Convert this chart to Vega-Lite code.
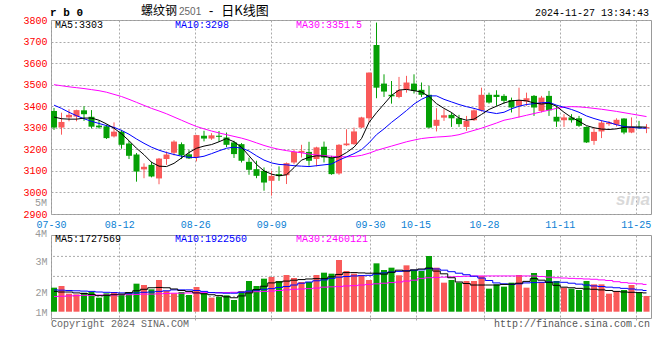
{
"$schema": "https://vega.github.io/schema/vega-lite/v6.json",
"background": "#ffffff",
"padding": {"left": 22, "top": 4, "right": 4, "bottom": 4},
"bounds": "flush",
"spacing": 21,
"config": {
  "view": {"stroke": "#999999", "strokeWidth": 1},
  "axis": {"labelFont": "Liberation Mono", "labelFontSize": 10, "ticks": false, "domain": false, "gridColor": "#aaaaaa", "gridDash": [2, 2], "gridWidth": 1, "labelOverlap": false},
  "text": {"font": "Liberation Mono", "fontSize": 10, "baseline": "middle"}
},
"datasets": {"k": [
{"d":"07-30","o":3378,"h":3392,"l":3290,"c":3301,"m5":3350,"m10":3405,"m30":3500,"v":2143000,"v5":2020000,"v10":2070000,"v30":1850000},
{"d":"07-31","o":3301,"h":3370,"l":3268,"c":3327,"m5":3342,"m10":3390,"m30":3495,"v":2198000,"v5":2000000,"v10":2060000,"v30":1860000},
{"d":"08-01","o":3348,"h":3386,"l":3330,"c":3360,"m5":3340,"m10":3372,"m30":3490,"v":1945000,"v5":2000000,"v10":2050000,"v30":1870000},
{"d":"08-02","o":3352,"h":3384,"l":3330,"c":3382,"m5":3340,"m10":3356,"m30":3486,"v":1923000,"v5":1970000,"v10":2040000,"v30":1880000},
{"d":"08-05","o":3381,"h":3400,"l":3332,"c":3363,"m5":3345,"m10":3342,"m30":3482,"v":1978000,"v5":1950000,"v10":2030000,"v30":1890000},
{"d":"08-06","o":3351,"h":3382,"l":3297,"c":3305,"m5":3345,"m10":3330,"m30":3477,"v":2000000,"v5":1920000,"v10":2020000,"v30":1890000},
{"d":"08-07","o":3310,"h":3333,"l":3296,"c":3302,"m5":3335,"m10":3320,"m30":3472,"v":1813000,"v5":1880000,"v10":2000000,"v30":1900000},
{"d":"08-08","o":3307,"h":3315,"l":3248,"c":3252,"m5":3318,"m10":3310,"m30":3465,"v":1956000,"v5":1890000,"v10":1990000,"v30":1900000},
{"d":"08-09","o":3260,"h":3325,"l":3255,"c":3282,"m5":3298,"m10":3302,"m30":3455,"v":2000000,"v5":1910000,"v10":1980000,"v30":1900000},
{"d":"08-12","o":3282,"h":3290,"l":3203,"c":3221,"m5":3272,"m10":3288,"m30":3445,"v":1923000,"v5":1930000,"v10":1970000,"v30":1910000},
{"d":"08-13","o":3227,"h":3240,"l":3155,"c":3170,"m5":3240,"m10":3270,"m30":3432,"v":1978000,"v5":1980000,"v10":1960000,"v30":1910000},
{"d":"08-14","o":3176,"h":3183,"l":3050,"c":3097,"m5":3205,"m10":3248,"m30":3418,"v":2275000,"v5":2040000,"v10":1970000,"v30":1920000},
{"d":"08-15","o":3107,"h":3135,"l":3066,"c":3119,"m5":3175,"m10":3228,"m30":3404,"v":2231000,"v5":2090000,"v10":1990000,"v30":1930000},
{"d":"08-16","o":3128,"h":3142,"l":3070,"c":3074,"m5":3140,"m10":3210,"m30":3390,"v":2088000,"v5":2140000,"v10":2000000,"v30":1930000},
{"d":"08-19","o":3065,"h":3160,"l":3038,"c":3157,"m5":3122,"m10":3196,"m30":3378,"v":2396000,"v5":2150000,"v10":2020000,"v30":1940000},
{"d":"08-20","o":3155,"h":3190,"l":3128,"c":3176,"m5":3120,"m10":3185,"m30":3365,"v":2033000,"v5":2140000,"v10":2040000,"v30":1950000},
{"d":"08-21","o":3184,"h":3242,"l":3172,"c":3236,"m5":3135,"m10":3176,"m30":3350,"v":1956000,"v5":2100000,"v10":2070000,"v30":1960000},
{"d":"08-22","o":3224,"h":3232,"l":3155,"c":3172,"m5":3160,"m10":3168,"m30":3335,"v":2000000,"v5":2050000,"v10":2070000,"v30":1960000},
{"d":"08-23","o":3177,"h":3196,"l":3155,"c":3158,"m5":3185,"m10":3163,"m30":3320,"v":1901000,"v5":2020000,"v10":2070000,"v30":1970000},
{"d":"08-26","o":3163,"h":3267,"l":3144,"c":3266,"m5":3205,"m10":3162,"m30":3306,"v":2165000,"v5":1970000,"v10":2050000,"v30":1970000},
{"d":"08-27","o":3263,"h":3286,"l":3237,"c":3250,"m5":3215,"m10":3168,"m30":3295,"v":1978000,"v5":1940000,"v10":2020000,"v30":1980000},
{"d":"08-28","o":3250,"h":3275,"l":3244,"c":3265,"m5":3222,"m10":3180,"m30":3285,"v":1813000,"v5":1910000,"v10":1980000,"v30":1980000},
{"d":"08-29","o":3263,"h":3285,"l":3235,"c":3258,"m5":3235,"m10":3193,"m30":3276,"v":1846000,"v5":1880000,"v10":1970000,"v30":1980000},
{"d":"08-30","o":3255,"h":3278,"l":3210,"c":3221,"m5":3250,"m10":3205,"m30":3268,"v":1890000,"v5":1840000,"v10":1960000,"v30":1980000},
{"d":"09-02","o":3232,"h":3240,"l":3160,"c":3178,"m5":3235,"m10":3210,"m30":3260,"v":1736000,"v5":1810000,"v10":1960000,"v30":1990000},
{"d":"09-03","o":3224,"h":3229,"l":3139,"c":3147,"m5":3210,"m10":3206,"m30":3252,"v":2033000,"v5":1870000,"v10":1990000,"v30":2000000},
{"d":"09-04","o":3142,"h":3162,"l":3082,"c":3105,"m5":3170,"m10":3192,"m30":3242,"v":2363000,"v5":1970000,"v10":2030000,"v30":2000000},
{"d":"09-05","o":3108,"h":3147,"l":3066,"c":3077,"m5":3130,"m10":3170,"m30":3230,"v":2198000,"v5":2080000,"v10":2060000,"v30":2010000},
{"d":"09-06","o":3100,"h":3116,"l":3008,"c":3046,"m5":3100,"m10":3150,"m30":3218,"v":2440000,"v5":2190000,"v10":2090000,"v30":2020000},
{"d":"09-09","o":3054,"h":3100,"l":2985,"c":3077,"m5":3085,"m10":3137,"m30":3208,"v":2495000,"v5":2300000,"v10":2110000,"v30":2030000},
{"d":"09-10","o":3085,"h":3121,"l":3054,"c":3076,"m5":3077,"m10":3130,"m30":3200,"v":2363000,"v5":2330000,"v10":2150000,"v30":2050000},
{"d":"09-11","o":3080,"h":3139,"l":3039,"c":3136,"m5":3082,"m10":3128,"m30":3194,"v":2561000,"v5":2360000,"v10":2180000,"v30":2070000},
{"d":"09-12","o":3139,"h":3201,"l":3131,"c":3188,"m5":3115,"m10":3124,"m30":3189,"v":2462000,"v5":2390000,"v10":2230000,"v30":2090000},
{"d":"09-13","o":3184,"h":3221,"l":3162,"c":3193,"m5":3150,"m10":3122,"m30":3184,"v":2330000,"v5":2410000,"v10":2290000,"v30":2100000},
{"d":"09-18","o":3188,"h":3235,"l":3124,"c":3147,"m5":3163,"m10":3120,"m30":3178,"v":2330000,"v5":2430000,"v10":2330000,"v30":2110000},
{"d":"09-19","o":3155,"h":3212,"l":3121,"c":3209,"m5":3170,"m10":3124,"m30":3174,"v":2561000,"v5":2440000,"v10":2370000,"v30":2130000},
{"d":"09-20","o":3212,"h":3236,"l":3139,"c":3162,"m5":3168,"m10":3128,"m30":3171,"v":2638000,"v5":2440000,"v10":2400000,"v30":2160000},
{"d":"09-23","o":3162,"h":3170,"l":3082,"c":3085,"m5":3160,"m10":3132,"m30":3168,"v":2605000,"v5":2500000,"v10":2450000,"v30":2170000},
{"d":"09-24","o":3088,"h":3224,"l":3082,"c":3221,"m5":3165,"m10":3150,"m30":3166,"v":3056000,"v5":2580000,"v10":2490000,"v30":2180000},
{"d":"09-25","o":3219,"h":3293,"l":3216,"c":3227,"m5":3185,"m10":3165,"m30":3165,"v":2693000,"v5":2640000,"v10":2510000,"v30":2200000},
{"d":"09-26","o":3224,"h":3301,"l":3221,"c":3283,"m5":3210,"m10":3180,"m30":3167,"v":2605000,"v5":2640000,"v10":2530000,"v30":2210000},
{"d":"09-27","o":3301,"h":3351,"l":3298,"c":3348,"m5":3250,"m10":3198,"m30":3172,"v":2550000,"v5":2630000,"v10":2540000,"v30":2230000},
{"d":"09-30","o":3344,"h":3557,"l":3324,"c":3556,"m5":3325,"m10":3230,"m30":3182,"v":2396000,"v5":2620000,"v10":2550000,"v30":2250000},
{"d":"10-08","o":3684,"h":3788,"l":3437,"c":3486,"m5":3370,"m10":3268,"m30":3195,"v":2946000,"v5":2620000,"v10":2590000,"v30":2270000},
{"d":"10-09","o":3505,"h":3548,"l":3443,"c":3468,"m5":3410,"m10":3295,"m30":3205,"v":2726000,"v5":2590000,"v10":2630000,"v30":2290000},
{"d":"10-10","o":3453,"h":3517,"l":3412,"c":3446,"m5":3450,"m10":3325,"m30":3215,"v":2803000,"v5":2650000,"v10":2660000,"v30":2310000},
{"d":"10-11","o":3443,"h":3536,"l":3437,"c":3474,"m5":3475,"m10":3352,"m30":3225,"v":2550000,"v5":2720000,"v10":2680000,"v30":2330000},
{"d":"10-14","o":3476,"h":3541,"l":3463,"c":3510,"m5":3478,"m10":3380,"m30":3235,"v":2880000,"v5":2690000,"v10":2700000,"v30":2360000},
{"d":"10-15","o":3505,"h":3548,"l":3459,"c":3471,"m5":3472,"m10":3410,"m30":3243,"v":2726000,"v5":2730000,"v10":2720000,"v30":2390000},
{"d":"10-16","o":3476,"h":3510,"l":3443,"c":3453,"m5":3466,"m10":3432,"m30":3250,"v":2693000,"v5":2760000,"v10":2730000,"v30":2450000},
{"d":"10-17","o":3453,"h":3494,"l":3298,"c":3301,"m5":3445,"m10":3448,"m30":3254,"v":3188000,"v5":2790000,"v10":2770000,"v30":2470000},
{"d":"10-18","o":3309,"h":3391,"l":3283,"c":3337,"m5":3412,"m10":3448,"m30":3257,"v":2803000,"v5":2690000,"v10":2760000,"v30":2480000},
{"d":"10-21","o":3347,"h":3386,"l":3332,"c":3358,"m5":3390,"m10":3432,"m30":3259,"v":2308000,"v5":2600000,"v10":2720000,"v30":2490000},
{"d":"10-22","o":3360,"h":3371,"l":3304,"c":3344,"m5":3371,"m10":3420,"m30":3262,"v":2396000,"v5":2470000,"v10":2670000,"v30":2500000},
{"d":"10-23","o":3344,"h":3360,"l":3304,"c":3317,"m5":3345,"m10":3408,"m30":3268,"v":2308000,"v5":2330000,"v10":2620000,"v30":2510000},
{"d":"10-24","o":3304,"h":3355,"l":3286,"c":3332,"m5":3335,"m10":3398,"m30":3278,"v":2363000,"v5":2280000,"v10":2570000,"v30":2520000},
{"d":"10-25","o":3335,"h":3386,"l":3332,"c":3381,"m5":3340,"m10":3390,"m30":3288,"v":2363000,"v5":2230000,"v10":2520000,"v30":2530000},
{"d":"10-28","o":3381,"h":3486,"l":3375,"c":3453,"m5":3362,"m10":3380,"m30":3298,"v":2528000,"v5":2230000,"v10":2460000,"v30":2530000},
{"d":"10-29","o":3453,"h":3463,"l":3412,"c":3417,"m5":3385,"m10":3372,"m30":3310,"v":2110000,"v5":2230000,"v10":2380000,"v30":2530000},
{"d":"10-30","o":3453,"h":3474,"l":3402,"c":3443,"m5":3400,"m10":3366,"m30":3322,"v":2253000,"v5":2230000,"v10":2300000,"v30":2530000},
{"d":"10-31","o":3448,"h":3456,"l":3412,"c":3425,"m5":3415,"m10":3372,"m30":3335,"v":2176000,"v5":2250000,"v10":2270000,"v30":2530000},
{"d":"11-01","o":3429,"h":3440,"l":3371,"c":3394,"m5":3425,"m10":3388,"m30":3342,"v":2308000,"v5":2260000,"v10":2250000,"v30":2530000},
{"d":"11-04","o":3402,"h":3486,"l":3348,"c":3429,"m5":3428,"m10":3400,"m30":3350,"v":2561000,"v5":2290000,"v10":2270000,"v30":2530000},
{"d":"11-05","o":3422,"h":3463,"l":3402,"c":3437,"m5":3425,"m10":3408,"m30":3358,"v":2143000,"v5":2350000,"v10":2300000,"v30":2530000},
{"d":"11-06","o":3448,"h":3452,"l":3355,"c":3394,"m5":3415,"m10":3412,"m30":3366,"v":2627000,"v5":2440000,"v10":2310000,"v30":2530000},
{"d":"11-07","o":3378,"h":3448,"l":3371,"c":3440,"m5":3410,"m10":3416,"m30":3374,"v":2330000,"v5":2390000,"v10":2320000,"v30":2510000},
{"d":"11-08","o":3448,"h":3471,"l":3355,"c":3381,"m5":3414,"m10":3418,"m30":3382,"v":2726000,"v5":2320000,"v10":2330000,"v30":2490000},
{"d":"11-11","o":3351,"h":3402,"l":3304,"c":3329,"m5":3400,"m10":3405,"m30":3390,"v":2363000,"v5":2220000,"v10":2330000,"v30":2470000},
{"d":"11-12","o":3335,"h":3363,"l":3304,"c":3348,"m5":3372,"m10":3395,"m30":3396,"v":2143000,"v5":2160000,"v10":2320000,"v30":2460000},
{"d":"11-13","o":3348,"h":3363,"l":3324,"c":3335,"m5":3348,"m10":3385,"m30":3398,"v":2110000,"v5":2140000,"v10":2290000,"v30":2450000},
{"d":"11-14","o":3344,"h":3355,"l":3304,"c":3309,"m5":3330,"m10":3372,"m30":3397,"v":2066000,"v5":2120000,"v10":2260000,"v30":2440000},
{"d":"11-15","o":3304,"h":3306,"l":3230,"c":3232,"m5":3310,"m10":3355,"m30":3394,"v":2363000,"v5":2100000,"v10":2230000,"v30":2430000},
{"d":"11-18","o":3239,"h":3301,"l":3221,"c":3281,"m5":3300,"m10":3343,"m30":3390,"v":2253000,"v5":2090000,"v10":2200000,"v30":2420000},
{"d":"11-19","o":3283,"h":3335,"l":3252,"c":3324,"m5":3294,"m10":3333,"m30":3386,"v":2253000,"v5":2070000,"v10":2180000,"v30":2400000},
{"d":"11-20","o":3317,"h":3332,"l":3309,"c":3324,"m5":3292,"m10":3325,"m30":3381,"v":1945000,"v5":2050000,"v10":2160000,"v30":2380000},
{"d":"11-21","o":3314,"h":3344,"l":3306,"c":3337,"m5":3295,"m10":3314,"m30":3376,"v":2033000,"v5":2020000,"v10":2140000,"v30":2340000},
{"d":"11-22","o":3343,"h":3344,"l":3270,"c":3278,"m5":3302,"m10":3306,"m30":3370,"v":2066000,"v5":2000000,"v10":2120000,"v30":2310000},
{"d":"11-25","o":3278,"h":3348,"l":3275,"c":3304,"m5":3304,"m10":3302,"m30":3364,"v":2231000,"v5":1990000,"v10":2100000,"v30":2290000},
{"d":"11-26","o":3304,"h":3332,"l":3294,"c":3300,"m5":3304,"m10":3299,"m30":3358,"v":1978000,"v5":1980000,"v10":2070000,"v30":2270000},
{"d":"11-27","o":3298,"h":3317,"l":3275,"c":3303,"m5":3303,"m10":3298,"m30":3352,"v":1868000,"v5":1970000,"v10":2050000,"v30":2250000}
]},
"data": {"name": "k"},
"vconcat": [
 {
  "width": 600, "height": 194,
  "layer": [
   {
    "layer": [
     {"mark": {"type": "rule", "strokeOpacity": 0},
      "encoding": {"x": {"field": "d", "type": "ordinal", "scale": {"type": "point", "padding": 0},
        "axis": {"orient": "bottom", "values": ["07-30","08-12","08-26","09-09","09-30","10-15","10-28","11-11","11-25"], "grid": true, "labelColor": "#0b7fd4", "labelPadding": 5, "labelAngle": 0, "title": null}}}},
     {"data": {"values": [{}]}, "mark": {"type": "text", "text": "sina", "font": "Liberation Sans", "fontSize": 17, "fontWeight": "bold", "fontStyle": "italic", "color": "#d9d9d9", "align": "right", "dx": -1, "dy": -14},
      "encoding": {"x": {"datum": "11-27", "type": "ordinal"}, "y": {"datum": 2900, "type": "quantitative"}}},
     {"data": {"values": [{}]}, "mark": {"type": "text", "text": "5M", "color": "#999999", "align": "right", "dx": -4},
      "encoding": {"x": {"datum": "07-30", "type": "ordinal"}, "y": {"datum": 2950, "type": "quantitative"}}},
     {"data": {"values": [{}]}, "mark": {"type": "text", "text": "r b 0", "fontSize": 11, "fontWeight": "bold", "color": "#000000", "align": "left", "dx": -1, "dy": -7},
      "encoding": {"x": {"datum": "07-30", "type": "ordinal"}, "y": {"datum": 3800, "type": "quantitative"}}},
     {"data": {"values": [{}]}, "mark": {"type": "text", "text": "螺纹钢", "font": "Noto Sans CJK SC", "fontSize": 12, "color": "#000000", "align": "left", "dx": 90, "dy": -9},
      "encoding": {"x": {"datum": "07-30", "type": "ordinal"}, "y": {"datum": 3800, "type": "quantitative"}}},
     {"data": {"values": [{}]}, "mark": {"type": "text", "text": "2501", "font": "Liberation Sans", "fontSize": 10, "color": "#666666", "align": "left", "dx": 128, "dy": -8},
      "encoding": {"x": {"datum": "07-30", "type": "ordinal"}, "y": {"datum": 3800, "type": "quantitative"}}},
     {"data": {"values": [{}]}, "mark": {"type": "text", "text": "-", "fontSize": 12, "color": "#000000", "align": "center", "dx": 160, "dy": -9},
      "encoding": {"x": {"datum": "07-30", "type": "ordinal"}, "y": {"datum": 3800, "type": "quantitative"}}},
     {"data": {"values": [{}]}, "mark": {"type": "text", "text": "日K线图", "font": "Noto Sans CJK SC", "fontSize": 13, "color": "#000000", "align": "center", "dx": 194, "dy": -9},
      "encoding": {"x": {"datum": "07-30", "type": "ordinal"}, "y": {"datum": 3800, "type": "quantitative"}}},
     {"data": {"values": [{}]}, "mark": {"type": "text", "text": "2024-11-27 13:34:43", "color": "#000000", "align": "right", "dx": -2, "dy": -7},
      "encoding": {"x": {"datum": "11-27", "type": "ordinal"}, "y": {"datum": 3800, "type": "quantitative"}}},
     {"data": {"values": [{}]}, "mark": {"type": "text", "text": "MA5:3303", "color": "#000000", "align": "left", "dx": 4, "dy": 5},
      "encoding": {"x": {"datum": "07-30", "type": "ordinal"}, "y": {"datum": 3800, "type": "quantitative"}}},
     {"data": {"values": [{}]}, "mark": {"type": "text", "text": "MA10:3298", "color": "#0000ff", "align": "left", "dx": 124, "dy": 5},
      "encoding": {"x": {"datum": "07-30", "type": "ordinal"}, "y": {"datum": 3800, "type": "quantitative"}}},
     {"data": {"values": [{}]}, "mark": {"type": "text", "text": "MA30:3351.5", "color": "#ff00ff", "align": "left", "dx": 245, "dy": 5},
      "encoding": {"x": {"datum": "07-30", "type": "ordinal"}, "y": {"datum": 3800, "type": "quantitative"}}}
    ]
   },
   {
    "encoding": {"x": {"field": "d", "type": "ordinal", "scale": {"type": "band", "paddingInner": 0.2, "paddingOuter": 0.1, "align": 0}, "axis": null}},
    "layer": [
     {"mark": {"type": "rule", "strokeWidth": 1},
      "encoding": {
        "y": {"field": "l", "type": "quantitative", "scale": {"domain": [2900, 3800], "nice": false, "zero": false},
          "axis": {"values": [2900,3000,3100,3200,3300,3400,3500,3600,3700,3800], "tickCount": 20, "format": "d", "labelColor": "#ff0000", "labelPadding": 4, "grid": true, "title": null}},
        "y2": {"field": "h"},
        "color": {"condition": {"test": "datum.c > datum.o", "value": "#f95a5a"}, "value": "#05a005"}}},
     {"mark": {"type": "bar"},
      "encoding": {
        "y": {"field": "o", "type": "quantitative"},
        "y2": {"field": "c"},
        "color": {"condition": {"test": "datum.c > datum.o", "value": "#f95a5a"}, "value": "#05a005"}}},
     {"mark": {"type": "line", "color": "#ff00ff", "strokeWidth": 1}, "encoding": {"y": {"field": "m30", "type": "quantitative"}}},
     {"mark": {"type": "line", "color": "#0000ff", "strokeWidth": 1}, "encoding": {"y": {"field": "m10", "type": "quantitative"}}},
     {"mark": {"type": "line", "color": "#000000", "strokeWidth": 1}, "encoding": {"y": {"field": "m5", "type": "quantitative"}}}
    ]
   }
  ],
  "resolve": {"scale": {"x": "independent"}, "axis": {"x": "independent"}}
 },
 {
  "width": 600, "height": 83,
  "layer": [
   {
    "layer": [
     {"mark": {"type": "rule", "strokeOpacity": 0},
      "encoding": {"x": {"field": "d", "type": "ordinal", "scale": {"type": "point", "padding": 0},
        "axis": {"orient": "bottom", "values": ["07-30","08-12","08-26","09-09","09-30","10-15","10-28","11-11","11-25"], "grid": true, "labels": false, "ticks": true, "tickSize": 4, "tickDash": [2, 2], "tickColor": "#aaaaaa", "title": null}}}},
     {"data": {"values": [{}]}, "mark": {"type": "rule", "color": "#aaaaaa", "strokeDash": [2, 2]}, "encoding": {"y": {"datum": 1855000, "type": "quantitative"}}},
     {"data": {"values": [{}]}, "mark": {"type": "rule", "color": "#aaaaaa", "strokeDash": [2, 2]}, "encoding": {"y": {"datum": 2515000, "type": "quantitative"}}},
     {"data": {"values": [{}]}, "mark": {"type": "rule", "color": "#aaaaaa", "strokeDash": [2, 2]}, "encoding": {"y": {"datum": 3175000, "type": "quantitative"}}},
     {"data": {"values": [{}]}, "mark": {"type": "text", "text": "MA5:1727569", "color": "#000000", "align": "left", "dx": 4, "dy": 4},
      "encoding": {"x": {"datum": "07-30", "type": "ordinal"}, "y": {"datum": 3881000, "type": "quantitative"}}},
     {"data": {"values": [{}]}, "mark": {"type": "text", "text": "MA10:1922560", "color": "#0000ff", "align": "left", "dx": 124, "dy": 4},
      "encoding": {"x": {"datum": "07-30", "type": "ordinal"}, "y": {"datum": 3881000, "type": "quantitative"}}},
     {"data": {"values": [{}]}, "mark": {"type": "text", "text": "MA30:2460121", "color": "#ff00ff", "align": "left", "dx": 245, "dy": 4},
      "encoding": {"x": {"datum": "07-30", "type": "ordinal"}, "y": {"datum": 3881000, "type": "quantitative"}}},
     {"data": {"values": [{}]}, "mark": {"type": "text", "text": "4M", "color": "#999999", "align": "right", "dx": -4},
      "encoding": {"x": {"datum": "07-30", "type": "ordinal"}, "y": {"datum": 3900000, "type": "quantitative"}}},
     {"data": {"values": [{}]}, "mark": {"type": "text", "text": "Copyright 2024 SINA.COM", "color": "#666666", "align": "left", "dx": 0, "dy": 6},
      "encoding": {"x": {"datum": "07-30", "type": "ordinal"}, "y": {"datum": 1142000, "type": "quantitative"}}},
     {"data": {"values": [{}]}, "mark": {"type": "text", "text": "http://finance.sina.com.cn", "color": "#555555", "align": "right", "dx": -1, "dy": 6},
      "encoding": {"x": {"datum": "11-27", "type": "ordinal"}, "y": {"datum": 1142000, "type": "quantitative"}}}
    ]
   },
   {
    "encoding": {"x": {"field": "d", "type": "ordinal", "scale": {"type": "band", "paddingInner": 0.2, "paddingOuter": 0.1, "align": 0}, "axis": null}},
    "layer": [
     {"mark": {"type": "bar"},
      "encoding": {
        "y": {"field": "v", "type": "quantitative", "scale": {"domain": [1142000, 3881000], "nice": false, "zero": false},
          "axis": {"values": [1340000, 2000000, 3000000], "labelExpr": "round(datum.value / 1000000) + 'M'", "labelColor": "#999999", "labelPadding": 4, "grid": false, "title": null}},
        "y2": {"datum": 1350000},
        "color": {"condition": {"test": "datum.c > datum.o", "value": "#f95a5a"}, "value": "#05a005"}}},
     {"mark": {"type": "line", "color": "#ff00ff", "strokeWidth": 1, "interpolate": "step"}, "encoding": {"y": {"field": "v30", "type": "quantitative"}}},
     {"mark": {"type": "line", "color": "#0000ff", "strokeWidth": 1, "interpolate": "step"}, "encoding": {"y": {"field": "v10", "type": "quantitative"}}},
     {"mark": {"type": "line", "color": "#000000", "strokeWidth": 1, "interpolate": "step"}, "encoding": {"y": {"field": "v5", "type": "quantitative"}}}
    ]
   }
  ],
  "resolve": {"scale": {"x": "independent"}, "axis": {"x": "independent"}}
 }
]
}
